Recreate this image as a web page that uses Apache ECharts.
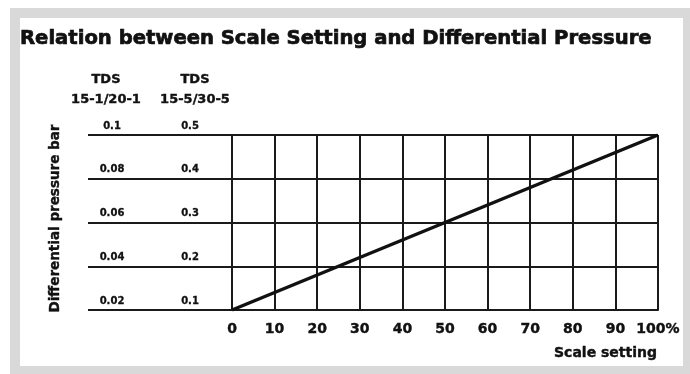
<!DOCTYPE html>
<html>
<head>
<meta charset="utf-8">
<script src="https://cdn.jsdelivr.net/npm/echarts@6/dist/echarts.min.js"></script>
<style>
  html, body { margin: 0; padding: 0; background: #fff; }
  #chart { width: 690px; height: 374px; }
</style>
</head>
<body>
<div id="chart"></div>
<script>
// data
const scaleSetting = [0, 100];            // % scale setting
const pressure = [0.02, 0.1];             // bar, TDS 15-1/20-1
const xTickLabels = ["0", "10", "20", "30", "40", "50", "60", "70", "80", "90", "100%"];
const leftLabels = ["0.02", "0.04", "0.06", "0.08", "0.1"];   // TDS 15-1/20-1
const rightLabels = ["0.1", "0.2", "0.3", "0.4", "0.5"];      // TDS 15-5/30-5
const headerLeft = "TDS\n15-1/20-1";
const headerRight = "TDS\n15-5/30-5";

const FONT = "DejaVu Sans";
const INK = "#111";
const RULE = "#1a1a1a";

const myChart = echarts.init(document.getElementById("chart"));

let option = {
  backgroundColor: "#fff",
  animation: false,
  title: {
    text: "Relation between Scale Setting and Differential Pressure",
    left: 20,
    top: 29,
    padding: 0,
    textStyle: {
      fontFamily: FONT,
      fontWeight: "bold",
      fontSize: 19.6,
      color: INK,
      textBorderColor: INK,
      textBorderWidth: 0.7,
    },
  },
  graphic: [
    {
      type: "rect",
      shape: { x: 15, y: 13, width: 673, height: 358 },
      style: { fill: "none", stroke: "#d9d9d9", lineWidth: 10 },
      z: 100,
    },
    {
      type: "text",
      x: 106,
      y: 70,
      style: { text: headerLeft, align: "center", font: "bold 13px " + FONT, fill: INK, lineHeight: 20, stroke: INK, lineWidth: 0.4 },
    },
    {
      type: "text",
      x: 195,
      y: 70,
      style: { text: headerRight, align: "center", font: "bold 13px " + FONT, fill: INK, lineHeight: 20, stroke: INK, lineWidth: 0.4 },
    },
  ],
  grid: [
    // long horizontal rules with the two label columns
    { left: 88, right: 32, top: 135, bottom: 64 },
    // the plot area
    { left: 232, right: 32, top: 135, bottom: 64 },
  ],
  xAxis: [
    { gridIndex: 0, type: "value", min: 0, max: 100, show: false },
    {
      gridIndex: 1,
      type: "value",
      min: 0,
      max: 100,
      interval: 10,
      name: "Scale setting",
      nameLocation: "end",
      nameGap: -1,
      nameTextStyle: {
        fontFamily: FONT,
        fontWeight: "bold",
        fontSize: 14,
        color: INK,
        align: "right",
        verticalAlign: "top",
        padding: [36, 0, 0, 0],
        textBorderColor: INK,
        textBorderWidth: 0.4,
      },
      axisLine: { show: true, lineStyle: { color: RULE, width: 2 } },
      axisTick: { show: false },
      splitLine: { show: true, lineStyle: { color: RULE, width: 2 } },
      axisLabel: {
        margin: 12,
        fontFamily: FONT,
        fontWeight: "bold",
        fontSize: 14,
        color: INK,
        textBorderColor: INK,
        textBorderWidth: 0.4,
        showMinLabel: true,
        showMaxLabel: true,
        formatter: (v, i) => xTickLabels[i],
      },
    },
  ],
  yAxis: [
    {
      gridIndex: 0,
      type: "value",
      min: 0.02,
      max: 0.1,
      interval: 0.02,
      position: "left",
      name: "Differential pressure bar",
      nameLocation: "middle",
      nameGap: 26,
      nameRotate: 90,
      nameTextStyle: {
        fontFamily: FONT,
        fontWeight: "bold",
        fontSize: 13.5,
        color: INK,
        padding: [0, 0, 0, 8],
        textBorderColor: INK,
        textBorderWidth: 0.4,
      },
      axisLine: { show: false },
      axisTick: { show: false },
      splitLine: { show: true, lineStyle: { color: RULE, width: 2 } },
      axisLabel: {
        inside: true,
        margin: 24,
        align: "center",
        verticalAlign: "bottom",
        padding: [0, 0, 4, 0],
        fontFamily: FONT,
        fontWeight: "bold",
        fontSize: 10,
        color: INK,
        textBorderColor: INK,
        textBorderWidth: 0.3,
        showMinLabel: true,
        showMaxLabel: true,
        formatter: (v, i) => leftLabels[i],
      },
    },
    {
      gridIndex: 0,
      type: "value",
      min: 0.1,
      max: 0.5,
      interval: 0.1,
      position: "left",
      axisLine: { show: false },
      axisTick: { show: false },
      splitLine: { show: false },
      axisLabel: {
        inside: true,
        margin: 102,
        align: "center",
        verticalAlign: "bottom",
        padding: [0, 0, 4, 0],
        fontFamily: FONT,
        fontWeight: "bold",
        fontSize: 10,
        color: INK,
        textBorderColor: INK,
        textBorderWidth: 0.3,
        showMinLabel: true,
        showMaxLabel: true,
        formatter: (v, i) => rightLabels[i],
      },
    },
    {
      gridIndex: 1,
      type: "value",
      min: 0.02,
      max: 0.1,
      interval: 0.02,
      show: false,
      splitLine: { show: false },
    },
  ],
  series: [
    {
      name: "Differential pressure",
      type: "line",
      xAxisIndex: 1,
      yAxisIndex: 2,
      symbol: "none",
      lineStyle: { color: "#111", width: 3.5 },
      data: scaleSetting.map((s, i) => [s, pressure[i]]),
      z: 5,
    },
  ],
};

myChart.setOption(option);
</script>
</body>
</html>
